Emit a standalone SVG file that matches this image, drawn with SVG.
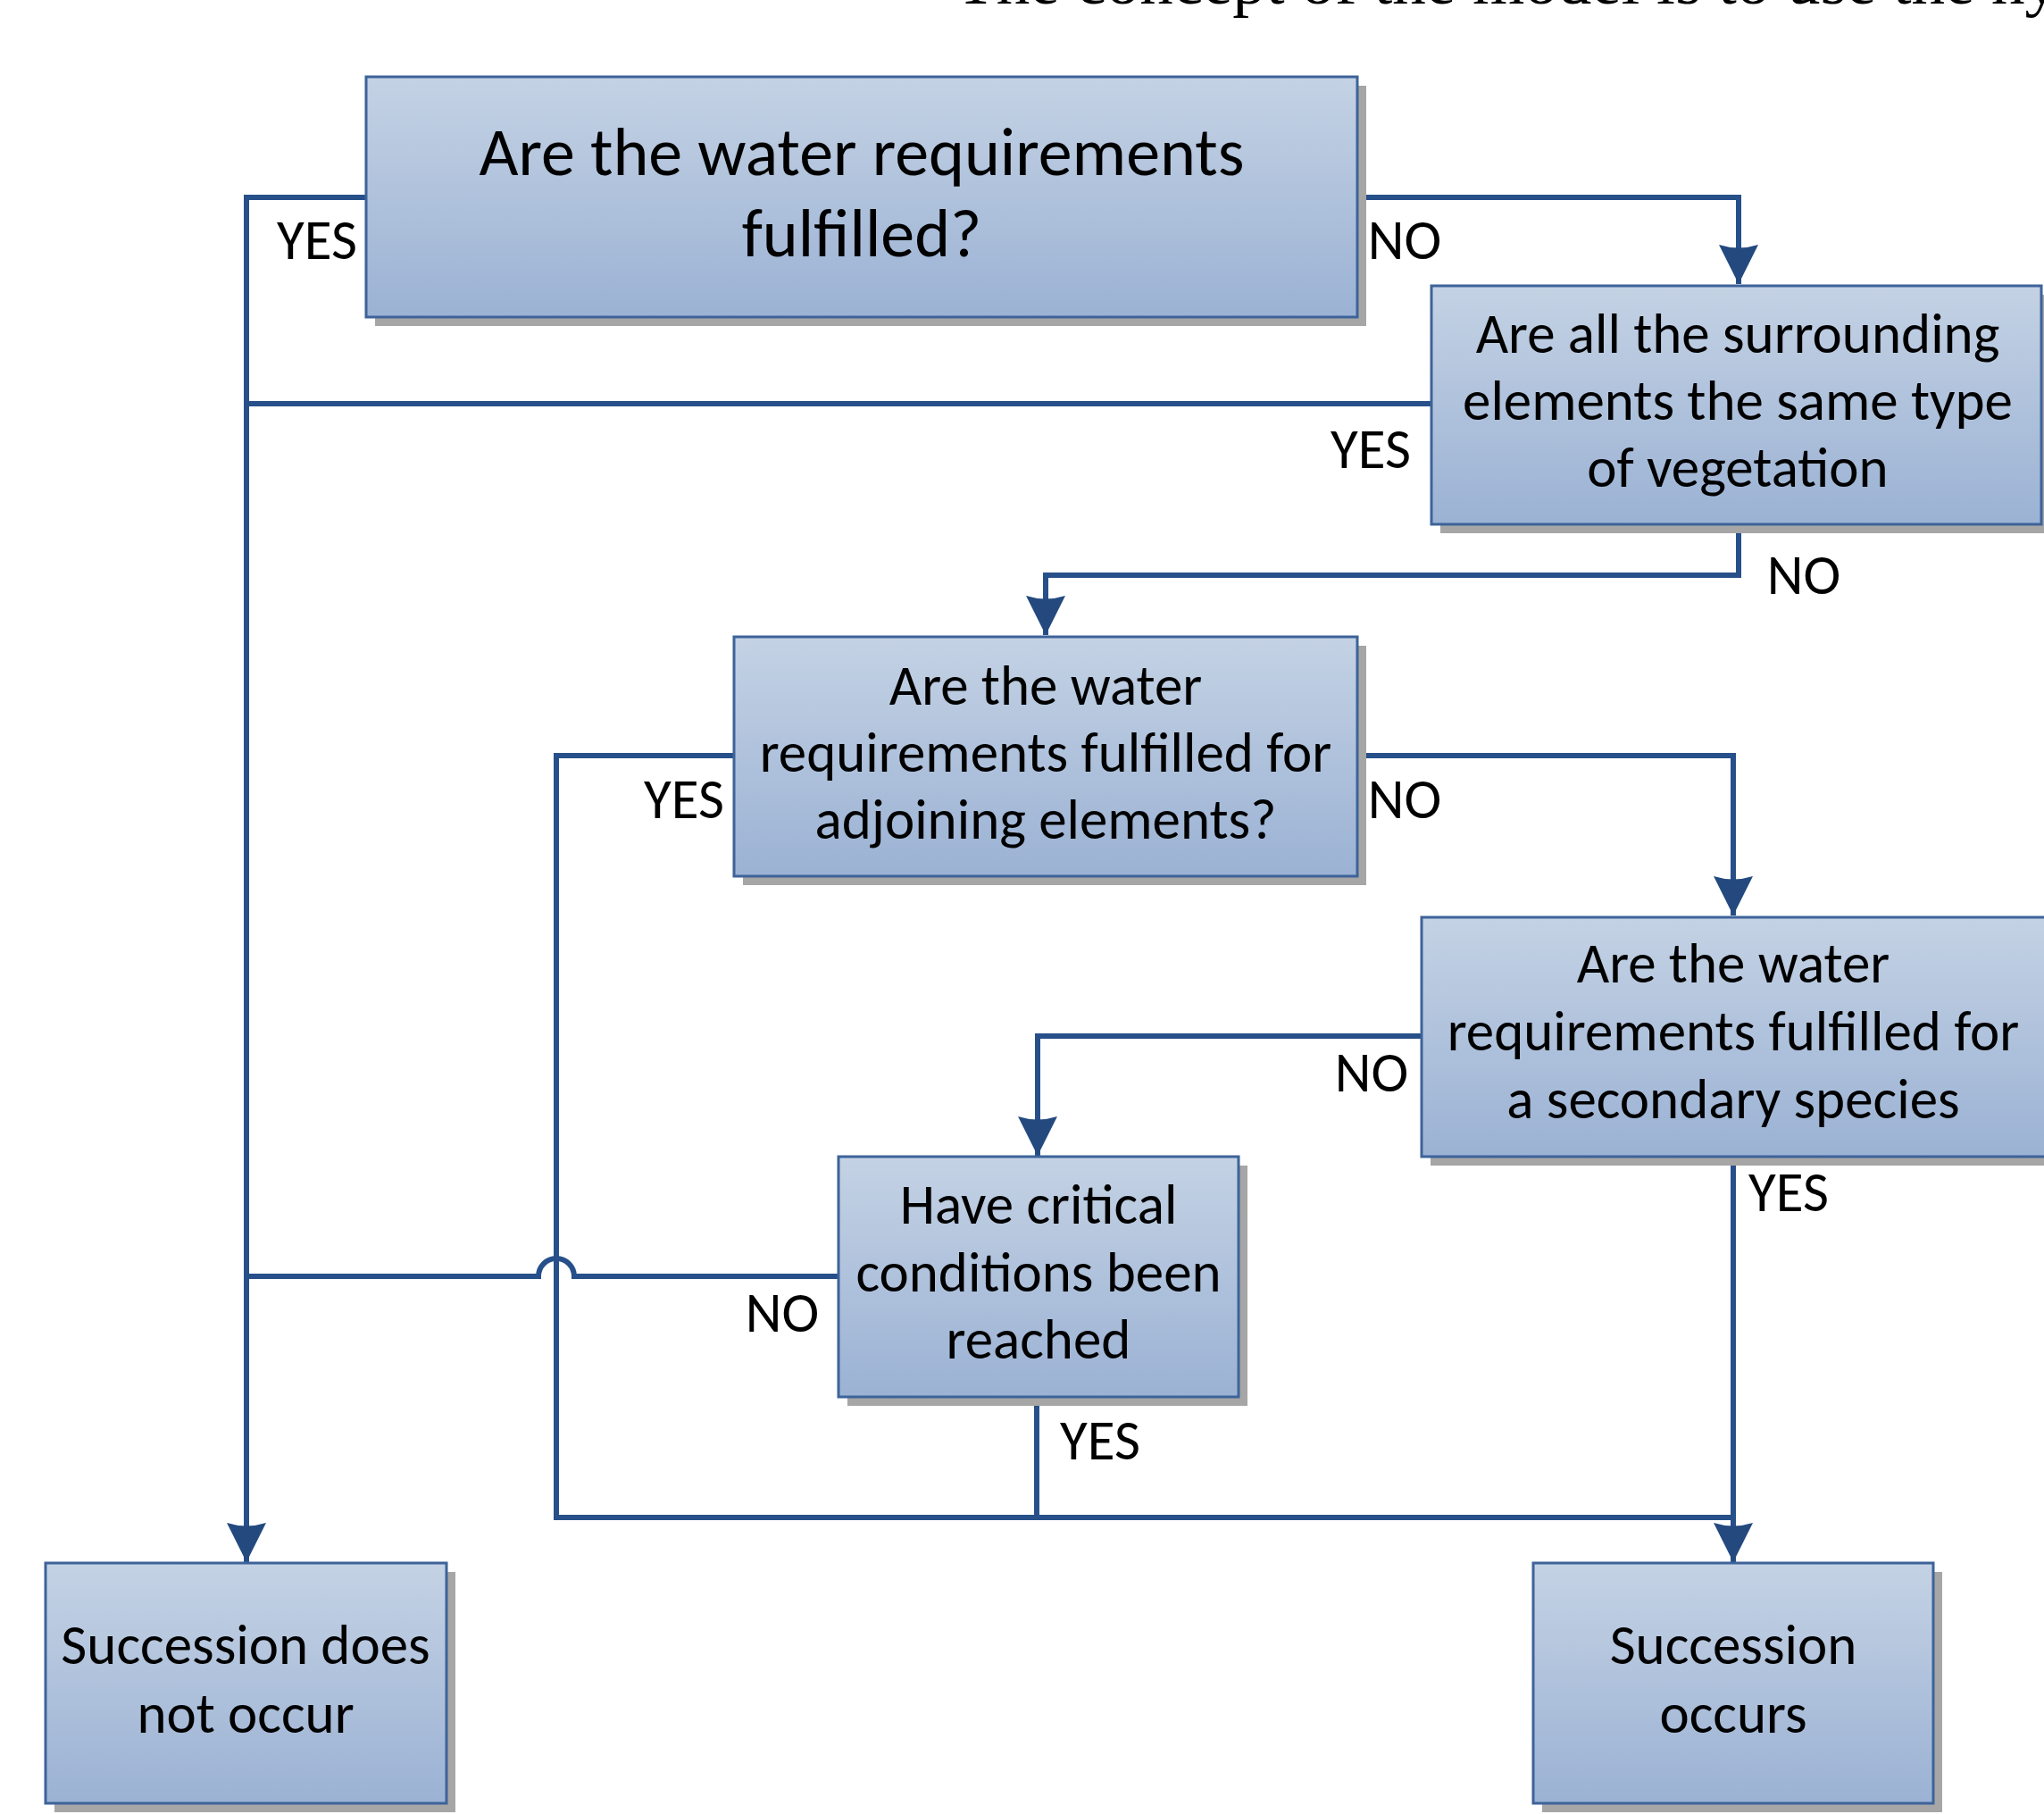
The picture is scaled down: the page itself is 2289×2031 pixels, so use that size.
<svg xmlns="http://www.w3.org/2000/svg" width="2289" height="2031" viewBox="0 0 2289 2031">
<defs>
<linearGradient id="fill" x1="0" y1="0" x2="0" y2="1">
<stop offset="0" stop-color="#c4d2e4"/>
<stop offset="1" stop-color="#9bb2d4"/>
</linearGradient>
<marker id="arr" markerUnits="userSpaceOnUse" markerWidth="50" markerHeight="50" viewBox="-46 -25 50 50" refX="0" refY="0" orient="auto" overflow="visible">
<path d="M0,0 L-44,-22 Q-37,0 -44,22 Z" fill="#23497f"/>
</marker>
</defs>
<style>
.shadow{fill:#a6a6a6}
.box{fill:url(#fill);stroke:#3d6399;stroke-width:3}
.t{font-family:Carlito,Lato,"Liberation Sans",sans-serif;font-size:63px;fill:#000;text-anchor:middle}
.t1{font-size:76px}
.lbl{font-family:Carlito,Lato,"Liberation Sans",sans-serif;font-size:63px;fill:#000;text-anchor:middle}
.c{fill:none;stroke:#27508a;stroke-width:6;stroke-linejoin:miter}
.top{font-family:"Liberation Serif",serif;font-size:75px;fill:#000}
</style>
<text class="top" x="1070" y="4">The concept of the model is to use the hy</text>
<g id="connectors">
<path class="c" d="M410,221 H276 V1749" marker-end="url(#arr)"/>
<path class="c" d="M1603,452 H276"/>
<path class="c" d="M939,1429 H643 A20,20 0 0 0 603,1429 H276"/>
<path class="c" d="M1520,221 H1947 V318" marker-end="url(#arr)"/>
<path class="c" d="M1947,587 V644 H1171 V711" marker-end="url(#arr)"/>
<path class="c" d="M822,846 H623 V1699 H1941"/>
<path class="c" d="M1520,846 H1941 V1025" marker-end="url(#arr)"/>
<path class="c" d="M1592,1160 H1162 V1294" marker-end="url(#arr)"/>
<path class="c" d="M1941,1295 V1749" marker-end="url(#arr)"/>
<path class="c" d="M1161,1564 V1699"/>
</g>
<g id="n1">
<rect class="shadow" x="420" y="96" width="1110" height="269"/>
<rect class="box" x="410" y="86" width="1110" height="269"/>
<text class="t t1" x="965" y="196">Are the water requirements</text>
<text class="t t1" x="965" y="287">fulfilled?</text>
</g>
<g id="n2">
<rect class="shadow" x="1613" y="330" width="690" height="267"/>
<rect class="box" x="1603" y="320" width="683" height="267"/>
<text class="t" x="1946" y="395">Are all the surrounding</text>
<text class="t" x="1946" y="470">elements the same type</text>
<text class="t" x="1946" y="545">of vegetation</text>
</g>
<g id="n3">
<rect class="shadow" x="832" y="723" width="698" height="268"/>
<rect class="box" x="822" y="713" width="698" height="268"/>
<text class="t" x="1171" y="789">Are the water</text>
<text class="t" x="1171" y="864">requirements fulfilled for</text>
<text class="t" x="1171" y="939">adjoining elements?</text>
</g>
<g id="n4">
<rect class="shadow" x="1602" y="1037" width="700" height="268"/>
<rect class="box" x="1592" y="1027" width="700" height="268"/>
<text class="t" x="1941" y="1100">Are the water</text>
<text class="t" x="1941" y="1176">requirements fulfilled for</text>
<text class="t" x="1941" y="1252">a secondary species</text>
</g>
<g id="n5">
<rect class="shadow" x="949" y="1305" width="448" height="269"/>
<rect class="box" x="939" y="1295" width="448" height="269"/>
<text class="t" x="1163" y="1370">Have critical</text>
<text class="t" x="1163" y="1446">conditions been</text>
<text class="t" x="1163" y="1521">reached</text>
</g>
<g id="n6">
<rect class="shadow" x="61" y="1760" width="449" height="269"/>
<rect class="box" x="51" y="1750" width="449" height="269"/>
<text class="t" x="275" y="1863">Succession does</text>
<text class="t" x="275" y="1940">not occur</text>
</g>
<g id="n7">
<rect class="shadow" x="1727" y="1760" width="448" height="269"/>
<rect class="box" x="1717" y="1750" width="448" height="269"/>
<text class="t" x="1941" y="1863">Succession</text>
<text class="t" x="1941" y="1940">occurs</text>
</g>
<g id="labels">
<text class="lbl" x="355" y="290">YES</text>
<text class="lbl" x="1573" y="290">NO</text>
<text class="lbl" x="1535" y="524">YES</text>
<text class="lbl" x="2020" y="665">NO</text>
<text class="lbl" x="766" y="916">YES</text>
<text class="lbl" x="1573" y="916">NO</text>
<text class="lbl" x="1536" y="1222">NO</text>
<text class="lbl" x="2003" y="1356">YES</text>
<text class="lbl" x="876" y="1491">NO</text>
<text class="lbl" x="1232" y="1634">YES</text>
</g>
</svg>
